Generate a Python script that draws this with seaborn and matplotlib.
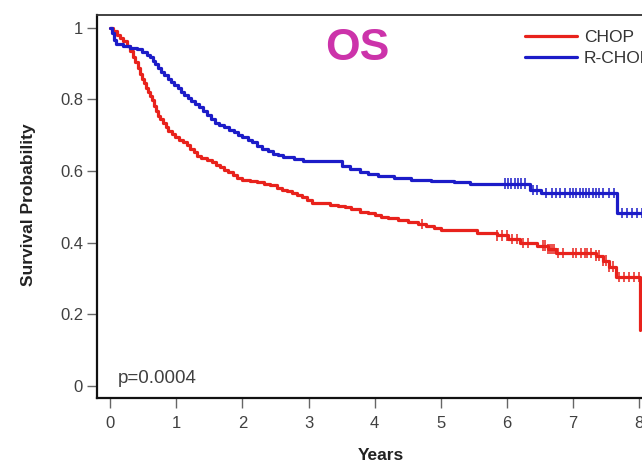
import numpy as np
import pandas as pd
import matplotlib
matplotlib.use("Agg")
import matplotlib.pyplot as plt
import seaborn as sns

# Kaplan-Meier step curves: event times (years) and survival after each step
chop_t = [0.0, 0.04, 0.1, 0.15, 0.2, 0.25, 0.3, 0.34, 0.38, 0.42, 0.45, 0.48,
          0.51, 0.54, 0.57, 0.6, 0.63, 0.66, 0.69, 0.72, 0.76, 0.8, 0.84, 0.88,
          0.93, 0.98, 1.04, 1.1, 1.16, 1.21, 1.26, 1.31, 1.38, 1.46, 1.54, 1.6,
          1.66, 1.72, 1.78, 1.85, 1.92, 2.0, 2.12, 2.22, 2.32, 2.42, 2.52, 2.6,
          2.68, 2.75, 2.83, 2.9, 2.98, 3.05, 3.2, 3.32, 3.45, 3.55, 3.65, 3.78,
          3.9, 4.0, 4.1, 4.2, 4.35, 4.5, 4.65, 4.78, 4.9, 5.0, 5.55, 5.85,
          6.02, 6.2, 6.45, 6.62, 6.75, 7.35, 7.45, 7.55, 7.65, 8.02]
chop_s = [1.0, 0.99, 0.98, 0.972, 0.962, 0.95, 0.935, 0.92, 0.905, 0.888, 0.872, 0.858,
          0.845, 0.832, 0.82, 0.81, 0.798, 0.783, 0.768, 0.755, 0.745, 0.735, 0.722, 0.712,
          0.703, 0.695, 0.688, 0.68, 0.672, 0.662, 0.652, 0.642, 0.636, 0.63, 0.625, 0.618,
          0.61, 0.603, 0.596, 0.588, 0.58, 0.576, 0.573, 0.57, 0.565, 0.56, 0.554, 0.548,
          0.543, 0.538, 0.533, 0.528, 0.52, 0.512, 0.51, 0.506, 0.503, 0.499, 0.495, 0.486,
          0.482, 0.478, 0.473, 0.468, 0.462, 0.457, 0.452, 0.447, 0.441, 0.435, 0.426, 0.42,
          0.41, 0.4, 0.392, 0.383, 0.372, 0.364, 0.35, 0.333, 0.305, 0.155]

rchop_t = [0.0, 0.03, 0.06, 0.09, 0.2, 0.3, 0.4, 0.48, 0.55, 0.6, 0.64, 0.68,
           0.72, 0.77, 0.82, 0.87, 0.92, 0.97, 1.02, 1.07, 1.12, 1.17, 1.22, 1.28,
           1.34, 1.4, 1.46, 1.52, 1.58, 1.64, 1.72, 1.8, 1.87, 1.94, 2.0, 2.08,
           2.15, 2.22, 2.3, 2.38, 2.46, 2.54, 2.62, 2.78, 2.92, 3.5, 3.63, 3.78,
           3.9, 4.05, 4.3, 4.55, 4.85, 5.2, 5.45, 6.35, 6.52, 7.67, 8.6]
rchop_s = [1.0, 0.985, 0.965, 0.955, 0.95, 0.945, 0.94, 0.932, 0.925, 0.918, 0.908, 0.898,
           0.888, 0.878, 0.868, 0.858, 0.848, 0.84, 0.832, 0.822, 0.812, 0.803, 0.795, 0.786,
           0.778, 0.768, 0.756, 0.745, 0.734, 0.728, 0.722, 0.716, 0.709, 0.701, 0.695, 0.688,
           0.68, 0.671, 0.662, 0.655, 0.649, 0.644, 0.639, 0.634, 0.627, 0.615, 0.607, 0.597,
           0.592, 0.586, 0.581, 0.576, 0.573, 0.569, 0.565, 0.547, 0.538, 0.483, 0.483]

# Censoring times (years)
chop_cens = [4.72, 5.85, 5.92, 6.0, 6.08, 6.15, 6.25, 6.32, 6.55, 6.58, 6.62, 6.65,
             6.68, 6.72, 6.78, 6.85, 7.0, 7.05, 7.12, 7.18, 7.22, 7.28, 7.35, 7.4,
             7.45, 7.5, 7.55, 7.6, 7.7, 7.78, 7.85, 7.93, 8.0]
rchop_cens = [5.97, 6.02, 6.07, 6.12, 6.17, 6.22, 6.28, 6.4, 6.45, 6.6, 6.68, 6.75,
              6.8, 6.88, 6.95, 7.0, 7.05, 7.1, 7.15, 7.2, 7.25, 7.3, 7.35, 7.4,
              7.45, 7.55, 7.62, 7.75, 7.82, 7.9, 7.97, 8.05, 8.12, 8.2, 8.28]

arms = ["CHOP", "R-CHOP"]
colors = {"CHOP": "#E8221C", "R-CHOP": "#1C1CC8"}
x_ticks = [0, 1, 2, 3, 4, 5, 6, 7, 8, 9]
y_ticks = [0, 0.2, 0.4, 0.6, 0.8, 1]
y_tick_labels = ["0", "0.2", "0.4", "0.6", "0.8", "1"]
p_text = "p=0.0004"


def step_value(t, s, x):
    idx = np.searchsorted(np.asarray(t), np.asarray(x), side="right") - 1
    return np.asarray(s)[idx]


curves = pd.concat([
    pd.DataFrame({"Years": chop_t, "Survival": chop_s, "Arm": "CHOP"}),
    pd.DataFrame({"Years": rchop_t, "Survival": rchop_s, "Arm": "R-CHOP"}),
])
censored = pd.concat([
    pd.DataFrame({"Years": chop_cens,
                  "Survival": step_value(chop_t, chop_s, chop_cens), "Arm": "CHOP"}),
    pd.DataFrame({"Years": rchop_cens,
                  "Survival": step_value(rchop_t, rchop_s, rchop_cens), "Arm": "R-CHOP"}),
])

sns.set_style("white")
plt.rcParams["font.family"] = ["Liberation Sans", "DejaVu Sans"]

W, H = 642, 461
fig = plt.figure(figsize=(W / 100, H / 100), dpi=100)

x0, x1 = -0.2, 9.0
px_per_year = 66.1
ax = fig.add_axes([97 / W, (H - 398) / H, (x1 - x0) * px_per_year / W, 383 / H])

sns.lineplot(data=curves, x="Years", y="Survival", hue="Arm", hue_order=arms,
             palette=colors, estimator=None, sort=False, drawstyle="steps-post",
             linewidth=2.3, ax=ax, legend=True)
sns.scatterplot(data=censored, x="Years", y="Survival", hue="Arm", hue_order=arms,
                palette=colors, marker="|", s=55, linewidth=1.1, ax=ax, legend=False)

ax.set_xlim(x0, x1)
ax.set_ylim(-0.034, 1.036)
ax.set_xticks(x_ticks)
ax.set_xticklabels([str(v) for v in x_ticks])
ax.set_yticks(y_ticks)
ax.set_yticklabels(y_tick_labels)
ax.tick_params(axis="both", direction="out", length=7, width=1, color="#666666",
               labelcolor="#404040", labelsize=12, pad=3, bottom=True, left=True)
ax.tick_params(axis="x", pad=6)
ax.set_xlabel("")
ax.set_ylabel("")
for side in ["left", "bottom"]:
    ax.spines[side].set_color("#111111")
    ax.spines[side].set_linewidth(1.6)
ax.spines["top"].set_color("#333333")
ax.spines["top"].set_linewidth(1.3)
ax.spines["right"].set_visible(False)

handles, labels = ax.get_legend_handles_labels()
leg = ax.legend(handles, labels, loc="upper left",
                bbox_to_anchor=(525 / W, 1 - 30 / H), bbox_transform=fig.transFigure,
                frameon=False, borderpad=0, borderaxespad=0, handlelength=3.0,
                handletextpad=0.4, labelspacing=0.35, fontsize=12.5)
for txt in leg.get_texts():
    txt.set_color("#333333")
for ln in leg.get_lines():
    ln.set_linewidth(2.3)

fig.text(357 / W, 1 - 60 / H, "OS", ha="center", va="baseline",
         fontsize=32, fontweight="bold", color="#CC33AA")
fig.text(118 / W, 1 - 383 / H, p_text, ha="left", va="baseline",
         fontsize=13.5, color="#404040")
fig.text(29 / W, 1 - 205 / H, "Survival Probability", rotation=90,
         ha="center", va="center", fontsize=12.5, fontweight="bold", color="#222222")
fig.text(381 / W, 1 - 455 / H, "Years", ha="center", va="center",
         fontsize=12.5, fontweight="bold", color="#222222")

fig.savefig("out.png", dpi=100)
